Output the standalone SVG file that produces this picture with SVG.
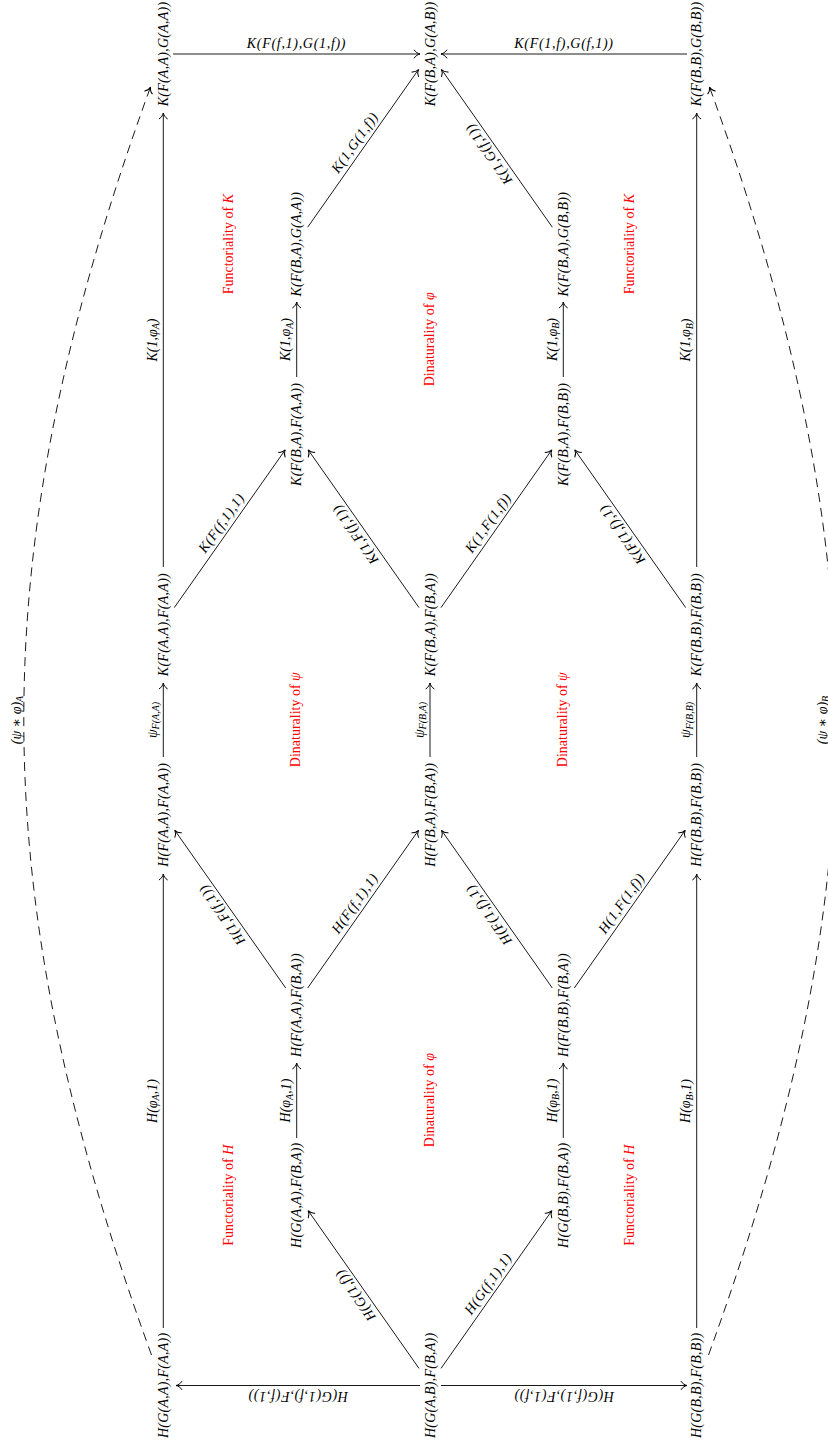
<svg xmlns="http://www.w3.org/2000/svg" width="828" height="1445" viewBox="0 0 828 1445">
<style>
.n{font-family:"Liberation Serif","DejaVu Serif",serif;font-size:14px;font-style:italic;text-anchor:middle;dominant-baseline:central;fill:#000;letter-spacing:0.25px}
.l{letter-spacing:0.7px}
.v{letter-spacing:0px}
.r{font-family:"Liberation Serif","DejaVu Serif",serif;font-size:14px;text-anchor:middle;dominant-baseline:central;fill:#ff0000}
.i{font-style:italic}
.s{font-size:10px}
.e{stroke:#000;stroke-width:0.9;fill:none;marker-end:url(#ah)}
.d{stroke-dasharray:9 6}
</style>
<defs>
<marker id="ah" markerUnits="userSpaceOnUse" viewBox="-7 -5 8 10" refX="0" refY="0" markerWidth="8" markerHeight="10" orient="auto" overflow="visible">
<path d="M-5.8,-4 C-4.6,-1.9 -1.9,-0.4 0,0 C-1.9,0.4 -4.6,1.9 -5.8,4" fill="none" stroke="#000" stroke-width="1" stroke-linecap="round"/>
</marker>
</defs>
<rect width="828" height="1445" fill="#fff"/>

<g id="connectors">
<path class="e" d="M173,54 L420,54"/>
<path class="e" d="M687,54 L441,54"/>
<path class="e" d="M420,1385.5 L176,1385.5"/>
<path class="e" d="M441,1385.5 L687,1385.5"/>
<path class="e" d="M163.3,567 V113"/>
<path class="e" d="M163.3,757 V683"/>
<path class="e" d="M163.3,1328 V874"/>
<path class="e" d="M296.7,377 V302"/>
<path class="e" d="M296.7,1138 V1063"/>
<path class="e" d="M430,757 V683"/>
<path class="e" d="M563.3,377 V302"/>
<path class="e" d="M563.3,1138 V1063"/>
<path class="e" d="M696.7,567 V113"/>
<path class="e" d="M696.7,757 V683"/>
<path class="e" d="M696.7,1328 V874"/>
<path class="e" d="M174.3,607.6 L285.2,449.9"/>
<path class="e" d="M419,607.6 L308.2,449.9"/>
<path class="e" d="M441,607.6 L551.8,449.9"/>
<path class="e" d="M685.7,607.6 L574.8,449.9"/>
<path class="e" d="M307.7,227.2 L418.5,69.5"/>
<path class="e" d="M552.3,227.2 L441.5,69.5"/>
<path class="e" d="M285.7,988 L174.8,830.3"/>
<path class="e" d="M307.7,988 L418.5,830.3"/>
<path class="e" d="M552.3,988 L441.5,830.3"/>
<path class="e" d="M574.3,988 L685.2,830.3"/>
<path class="e" d="M419,1368.4 L308.2,1210.7"/>
<path class="e" d="M441,1368.4 L551.8,1210.7"/>
<path class="e d" d="M151.5,1355 C-18.1,888.9 -19.1,553.1 150.5,87"/>
<path class="e d" d="M708.5,1355 C878.1,888.9 879.1,553.1 709.5,87"/>

<text class="n l" transform="translate(296.5,54) translate(0,-11)">K(F(f,1),G(1,f))</text>
<text class="n l" transform="translate(564,54) translate(0,-11)">K(F(1,f),G(f,1))</text>
<text class="n l" transform="translate(298,1385.5) rotate(180) translate(0,-11)">H(G(1,f),F(f,1))</text>
<text class="n l" transform="translate(564,1385.5) rotate(180) translate(0,-11)">H(G(f,1),F(1,f))</text>

<text class="n v" transform="translate(163.3,340) rotate(-90) translate(0,-11)">K(1,φ<tspan class="s" dy="3">A</tspan><tspan dy="-3">)</tspan></text>
<text class="n v" transform="translate(163.3,720) rotate(-90) translate(0,-11)">ψ<tspan class="s" dy="3">F(A,A)</tspan></text>
<text class="n v" transform="translate(163.3,1101) rotate(-90) translate(0,-11)">H(φ<tspan class="s" dy="3">A</tspan><tspan dy="-3">,1)</tspan></text>
<text class="n v" transform="translate(296.7,339.5) rotate(-90) translate(0,-11)">K(1,φ<tspan class="s" dy="3">A</tspan><tspan dy="-3">)</tspan></text>
<text class="n v" transform="translate(296.7,1100.5) rotate(-90) translate(0,-11)">H(φ<tspan class="s" dy="3">A</tspan><tspan dy="-3">,1)</tspan></text>
<text class="n v" transform="translate(430,720) rotate(-90) translate(0,-11)">ψ<tspan class="s" dy="3">F(B,A)</tspan></text>
<text class="n v" transform="translate(563.3,339.5) rotate(-90) translate(0,-11)">K(1,φ<tspan class="s" dy="3">B</tspan><tspan dy="-3">)</tspan></text>
<text class="n v" transform="translate(563.3,1100.5) rotate(-90) translate(0,-11)">H(φ<tspan class="s" dy="3">B</tspan><tspan dy="-3">,1)</tspan></text>
<text class="n v" transform="translate(696.7,340) rotate(-90) translate(0,-11)">K(1,φ<tspan class="s" dy="3">B</tspan><tspan dy="-3">)</tspan></text>
<text class="n v" transform="translate(696.7,720) rotate(-90) translate(0,-11)">ψ<tspan class="s" dy="3">F(B,B)</tspan></text>
<text class="n v" transform="translate(696.7,1101) rotate(-90) translate(0,-11)">H(φ<tspan class="s" dy="3">B</tspan><tspan dy="-3">,1)</tspan></text>

<text class="n l" transform="translate(229.75,528.75) rotate(-54.88) translate(0,-10)">K(F(f,1),1)</text>
<text class="n l" transform="translate(363.6,528.75) rotate(-125.12) translate(0,-10)">K(1,F(f,1))</text>
<text class="n l" transform="translate(496.4,528.75) rotate(-54.88) translate(0,-10)">K(1,F(1,f))</text>
<text class="n l" transform="translate(630.25,528.75) rotate(-125.12) translate(0,-10)">K(F(1,f),1)</text>
<text class="n l" transform="translate(363.1,148.35) rotate(-54.88) translate(0,-10)">K(1,G(1,f))</text>
<text class="n l" transform="translate(496.9,148.35) rotate(-125.12) translate(0,-10)">K(1,G(f,1))</text>
<text class="n l" transform="translate(230.25,909.15) rotate(-125.12) translate(0,-10)">H(1,F(f,1))</text>
<text class="n l" transform="translate(363.1,909.15) rotate(-54.88) translate(0,-10)">H(F(f,1),1)</text>
<text class="n l" transform="translate(496.9,909.15) rotate(-125.12) translate(0,-10)">H(F(1,f),1)</text>
<text class="n l" transform="translate(629.75,909.15) rotate(-54.88) translate(0,-10)">H(1,F(1,f))</text>
<text class="n l" transform="translate(363.6,1289.55) rotate(-125.12) translate(0,-10)">H(G(1,f))</text>
<text class="n l" transform="translate(496.4,1289.55) rotate(-54.88) translate(0,-10)">H(G(f,1),1)</text>

<text class="n v" transform="translate(16,720) rotate(-90)">(ψ ∗ φ)<tspan class="s" dy="3">A</tspan></text>
<text class="n v" transform="translate(822,720) rotate(-90)">(ψ ∗ φ)<tspan class="s" dy="3">B</tspan></text>
</g>

<g id="n-KFAA-GAA"><text class="n" transform="translate(163.3,54) rotate(-90)">K(F(A,A),G(A,A))</text></g>
<g id="n-KFBA-GAB"><text class="n" transform="translate(430,54) rotate(-90)">K(F(B,A),G(A,B))</text></g>
<g id="n-KFBB-GBB"><text class="n" transform="translate(696.7,54) rotate(-90)">K(F(B,B),G(B,B))</text></g>
<g id="n-KFBA-GAA"><text class="n" transform="translate(296.7,244.2) rotate(-90)">K(F(B,A),G(A,A))</text></g>
<g id="n-KFBA-GBB"><text class="n" transform="translate(563.3,244.2) rotate(-90)">K(F(B,A),G(B,B))</text></g>
<g id="n-KFBA-FAA"><text class="n" transform="translate(296.7,434.4) rotate(-90)">K(F(B,A),F(A,A))</text></g>
<g id="n-KFBA-FBB"><text class="n" transform="translate(563.3,434.4) rotate(-90)">K(F(B,A),F(B,B))</text></g>
<g id="n-KFAA-FAA"><text class="n" transform="translate(163.3,624.6) rotate(-90)">K(F(A,A),F(A,A))</text></g>
<g id="n-KFBA-FBA"><text class="n" transform="translate(430,624.6) rotate(-90)">K(F(B,A),F(B,A))</text></g>
<g id="n-KFBB-FBB"><text class="n" transform="translate(696.7,624.6) rotate(-90)">K(F(B,B),F(B,B))</text></g>
<g id="n-HFAA-FAA"><text class="n" transform="translate(163.3,814.8) rotate(-90)">H(F(A,A),F(A,A))</text></g>
<g id="n-HFBA-FBA"><text class="n" transform="translate(430,814.8) rotate(-90)">H(F(B,A),F(B,A))</text></g>
<g id="n-HFBB-FBB"><text class="n" transform="translate(696.7,814.8) rotate(-90)">H(F(B,B),F(B,B))</text></g>
<g id="n-HFAA-FBA"><text class="n" transform="translate(296.7,1005) rotate(-90)">H(F(A,A),F(B,A))</text></g>
<g id="n-HFBB-FBA"><text class="n" transform="translate(563.3,1005) rotate(-90)">H(F(B,B),F(B,A))</text></g>
<g id="n-HGAA-FBA"><text class="n" transform="translate(296.7,1195.2) rotate(-90)">H(G(A,A),F(B,A))</text></g>
<g id="n-HGBB-FBA"><text class="n" transform="translate(563.3,1195.2) rotate(-90)">H(G(B,B),F(B,A))</text></g>
<g id="n-HGAA-FAA"><text class="n" transform="translate(163.3,1385.4) rotate(-90)">H(G(A,A),F(A,A))</text></g>
<g id="n-HGAB-FBA"><text class="n" transform="translate(430,1385.4) rotate(-90)">H(G(A,B),F(B,A))</text></g>
<g id="n-HGBB-FBB"><text class="n" transform="translate(696.7,1385.4) rotate(-90)">H(G(B,B),F(B,B))</text></g>

<g id="notes">
<text class="r" transform="translate(228,244.2) rotate(-90)">Functoriality of <tspan class="i">K</tspan></text>
<text class="r" transform="translate(629,244.2) rotate(-90)">Functoriality of <tspan class="i">K</tspan></text>
<text class="r" transform="translate(429,339.3) rotate(-90)">Dinaturality of <tspan class="i">φ</tspan></text>
<text class="r" transform="translate(295,719.7) rotate(-90)">Dinaturality of <tspan class="i">ψ</tspan></text>
<text class="r" transform="translate(562,719.7) rotate(-90)">Dinaturality of <tspan class="i">ψ</tspan></text>
<text class="r" transform="translate(429,1100.1) rotate(-90)">Dinaturality of <tspan class="i">φ</tspan></text>
<text class="r" transform="translate(228,1195.2) rotate(-90)">Functoriality of <tspan class="i">H</tspan></text>
<text class="r" transform="translate(629,1195.2) rotate(-90)">Functoriality of <tspan class="i">H</tspan></text>
</g>
</svg>
